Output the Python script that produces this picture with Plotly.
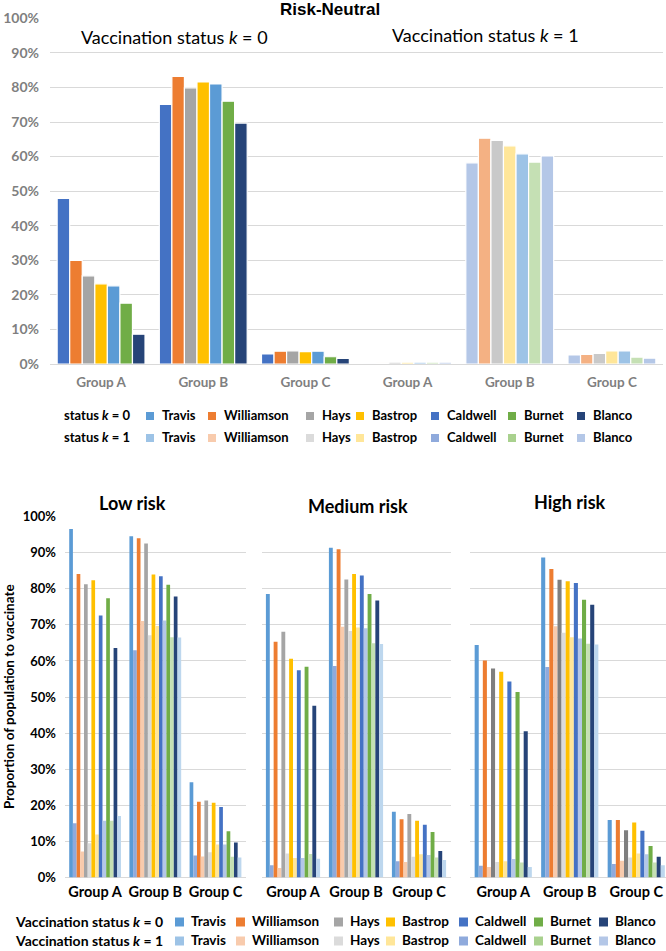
import plotly.graph_objects as go

# ---------------- data ----------------
counties = ["Travis", "Williamson", "Hays", "Bastrop", "Caldwell", "Burnet", "Blanco"]
groups = ["Group A", "Group B", "Group C"]

# Risk-neutral (percent), per group, counties in order
rn_k0_A = [47.9, 30.0, 25.5, 23.2, 22.6, 17.6, 8.6]
rn_k0_B = [75.1, 83.2, 79.9, 81.6, 81.0, 76.0, 69.7]
rn_k0_C = [2.9, 3.7, 3.8, 3.6, 3.7, 2.1, 1.6]
rn_k1_A = [0.1, 0.3, 0.5, 0.5, 0.5, 0.5, 0.5]
rn_k1_B = [58.2, 65.3, 64.7, 63.1, 60.8, 58.4, 60.2]
rn_k1_C = [2.6, 2.8, 3.1, 3.8, 3.8, 2.0, 1.7]

# Low risk
low_k0_A = [96.6, 84.1, 81.3, 82.4, 72.6, 77.4, 63.6]
low_k0_B = [94.6, 94.0, 92.6, 84.0, 83.5, 81.1, 77.9]
low_k0_C = [26.4, 21.0, 21.3, 20.7, 19.5, 12.8, 9.7]
low_k1_A = [15.0, 7.2, 9.5, 11.9, 15.7, 15.7, 17.0]
low_k1_B = [63.0, 71.1, 67.1, 69.7, 71.2, 66.6, 66.5]
low_k1_C = [6.1, 5.8, 7.0, 9.1, 9.1, 5.7, 5.5]

# Medium risk
med_k0_A = [78.6, 65.3, 68.1, 60.6, 57.4, 58.4, 47.6]
med_k0_B = [91.4, 91.0, 82.6, 84.1, 83.7, 78.6, 76.8]
med_k0_C = [18.2, 16.1, 17.6, 15.7, 14.6, 12.6, 7.3]
med_k1_A = [3.4, 2.6, 6.6, 5.4, 5.4, 6.5, 5.2]
med_k1_B = [58.6, 69.5, 68.3, 69.3, 69.1, 64.9, 64.7]
med_k1_C = [4.5, 4.3, 5.7, 6.4, 6.2, 5.5, 4.8]

# High risk
high_k0_A = [64.4, 60.1, 57.9, 57.0, 54.3, 51.4, 40.5]
high_k0_B = [88.7, 85.5, 82.5, 82.1, 81.6, 77.0, 75.6]
high_k0_C = [15.9, 15.9, 13.1, 15.2, 12.9, 8.7, 5.7]
high_k1_A = [3.2, 2.9, 4.3, 4.5, 5.1, 4.1, 2.9]
high_k1_B = [58.3, 69.6, 67.8, 66.6, 66.2, 64.8, 64.6]
high_k1_C = [3.7, 4.6, 5.5, 6.6, 6.4, 4.1, 3.4]

panel_titles = ["Low risk", "Medium risk", "High risk"]
legend_k0_label = "status <i>k</i> = 0"
legend_k1_label = "status <i>k</i> = 1"
bottom_legend_k0_label = "Vaccination status <i>k</i> = 0"
bottom_legend_k1_label = "Vaccination status <i>k</i> = 1"

# ---------------- styles ----------------
top_k0_colors = ["#4472C4", "#ED7D31", "#A5A5A5", "#FFC000", "#5B9BD5", "#70AD47", "#264478"]
top_k1_colors = ["#B4C7E7", "#F4B183", "#C9C9C9", "#FFE699", "#9DC3E6", "#C5E0B4", "#B4C7E7"]
k0_colors = ["#5B9BD5", "#ED7D31", "#A5A5A5", "#FFC000", "#4472C4", "#70AD47", "#264478"]
k1_colors = ["#8FAADC", "#F8CBAD", "#DBDBDB", "#FFE699", "#B4C7E7", "#C5E0B4", "#BDD7EE"]
legend_k1_colors = ["#9DC3E6", "#F8CBAD", "#DBDBDB", "#FFE699", "#8FAADC", "#A9D18E", "#B4C7E7"]

W, H = 666, 951
FONT = "Lato"
GRID = "#D9D9D9"


def px(x):
    return x / W


def py(y):
    return 1 - y / H


fig = go.Figure()

# ---- top: risk-neutral ----
top_x = ["A0", "B0", "C0", "A1", "B1", "C1"]
for i, c in enumerate(counties):
    vals = [rn_k0_A[i], rn_k0_B[i], rn_k0_C[i], rn_k1_A[i], rn_k1_B[i], rn_k1_C[i]]
    fig.add_trace(go.Bar(
        x=top_x, y=[v / 100 for v in vals], name=c, showlegend=False,
        marker=dict(color=[top_k0_colors[i]] * 3 + [top_k1_colors[i]] * 3,
                    line=dict(color="white", width=1.2)),
        xaxis="x", yaxis="y",
        hovertemplate="%{y:.1%}<extra>" + c + "</extra>",
    ))

# ---- bottom panels ----
panels = [
    ("x2", "y2", [low_k0_A, low_k0_B, low_k0_C], [low_k1_A, low_k1_B, low_k1_C]),
    ("x3", "y3", [med_k0_A, med_k0_B, med_k0_C], [med_k1_A, med_k1_B, med_k1_C]),
    ("x4", "y4", [high_k0_A, high_k0_B, high_k0_C], [high_k1_A, high_k1_B, high_k1_C]),
]
for p, (xa, ya, k0, k1) in enumerate(panels):
    for i, c in enumerate(counties):
        col0 = k0_colors[i]
        if p == 2 and c == "Hays":
            col0 = "#7F7F7F"
        fig.add_trace(go.Bar(
            x=groups, y=[g[i] / 100 for g in k0], name=c + " k=0", showlegend=False,
            marker=dict(color=col0, line=dict(width=0)), xaxis=xa, yaxis=ya,
        ))
        fig.add_trace(go.Bar(
            x=groups, y=[g[i] / 100 for g in k1], name=c + " k=1", showlegend=False,
            marker=dict(color=k1_colors[i], line=dict(width=0)), xaxis=xa, yaxis=ya,
        ))

bold = "bold"
top_tick_font = dict(family=FONT, size=14, color="#7F7F7F", weight=bold)
bot_tick_font = dict(family=FONT, size=13, color="#000000", weight=bold)
bot_x_font = dict(family=FONT, size=14.5, color="#000000", weight=bold)

yaxis_common = dict(range=[0, 1], dtick=0.1, tick0=0, tickformat=".0%", gridcolor=GRID,
                    gridwidth=1, zeroline=True, zerolinecolor=GRID, zerolinewidth=1,
                    showline=False, ticks="", fixedrange=True, automargin=False)
xaxis_common = dict(type="category", showgrid=False, showline=False, ticks="",
                    automargin=False, fixedrange=True)

fig.update_layout(
    width=W, height=H,
    margin=dict(l=0, r=0, t=0, b=0, pad=0),
    paper_bgcolor="white", plot_bgcolor="white",
    barmode="group", bargap=0.14, bargroupgap=0,
    showlegend=False,
    font=dict(family=FONT, color="#000000"),
    xaxis=dict(domain=[px(50), px(663)], anchor="y",
               tickvals=top_x, ticktext=groups + groups,
               tickfont=dict(family=FONT, size=13.5, color="#7F7F7F", weight=bold),
               ticklabelstandoff=8, **xaxis_common),
    yaxis=dict(domain=[py(364), py(18.3)], anchor="x", tickfont=top_tick_font,
               ticklabelstandoff=10, **yaxis_common),
    xaxis2=dict(domain=[px(65), px(245.6)], anchor="y2",
                tickfont=bot_x_font, ticklabelstandoff=4, **xaxis_common),
    yaxis2=dict(domain=[py(877.4), py(516.7)], anchor="x2", tickfont=bot_tick_font,
                ticklabelstandoff=8, **yaxis_common),
    xaxis3=dict(domain=[px(261.5), px(450.5)], anchor="y3",
                tickfont=bot_x_font, ticklabelstandoff=4, **xaxis_common),
    yaxis3=dict(domain=[py(877.4), py(516.7)], anchor="x3", showticklabels=False,
                **yaxis_common),
    xaxis4=dict(domain=[px(470), 1.0], anchor="y4",
                range=[-0.5, -0.5 + 196 / 66.5],
                tickfont=bot_x_font, ticklabelstandoff=4, **xaxis_common),
    yaxis4=dict(domain=[py(877.4), py(516.7)], anchor="x4", showticklabels=False,
                **yaxis_common),
)

ann = []
shapes = []


def add_text(text, x, y, size, weight="normal", xanchor="center", color="#000000",
             family=FONT, angle=0):
    ann.append(dict(text=text, x=px(x), y=py(y), xref="paper", yref="paper",
                    xanchor=xanchor, yanchor="middle", showarrow=False, textangle=angle,
                    font=dict(family=family, size=size, color=color, weight=weight)))


# titles
add_text("Risk-Neutral", 330, 9.5, 17, bold, family="Liberation Sans")
add_text("Vaccination status <i>k</i> = 0", 174.5, 37, 18)
add_text("Vaccination status <i>k</i> = 1", 485.5, 35, 18)
add_text(panel_titles[0], 132.5, 503, 18, bold)
add_text(panel_titles[1], 358, 506, 18, bold)
add_text(panel_titles[2], 570, 502, 18, bold)
add_text("Proportion of population to vaccinate", 9, 697, 13.5, bold, angle=-90)


# legends (drawn as text + swatches)
def legend_row(label, label_x, y, colors, swatch_x, size, title_size, font_size, text_gap):
    add_text(label, label_x, y, title_size, bold, xanchor="left")
    for c, col, sx in zip(counties, colors, swatch_x):
        shapes.append(dict(type="rect", xref="paper", yref="paper",
                           x0=px(sx), x1=px(sx + size), y0=py(y + size / 2 + 1), y1=py(y - size / 2 + 1),
                           fillcolor=col, line=dict(width=0)))
        add_text(c, sx + size + text_gap, y, font_size, bold, xanchor="left")


top_swatch_x = [146, 208, 306, 356, 431, 508, 577]
bot_swatch_x = [175, 236, 334, 386, 459, 534, 599]
legend_row(legend_k0_label, 62, 415, k0_colors, top_swatch_x, 8, 13, 13, 6)
legend_row(legend_k1_label, 62, 437, legend_k1_colors, top_swatch_x, 8, 13, 13, 6)
legend_row(bottom_legend_k0_label, 13, 921, k0_colors, bot_swatch_x, 9, 14, 13.5, 5)
legend_row(bottom_legend_k1_label, 13, 940, legend_k1_colors, bot_swatch_x, 9, 14, 13.5, 5)

fig.update_layout(annotations=ann, shapes=shapes)
fig.write_html("out.html", config={"displayModeBar": False},
               post_script="document.body.style.margin='0';document.body.style.overflow='hidden';")
